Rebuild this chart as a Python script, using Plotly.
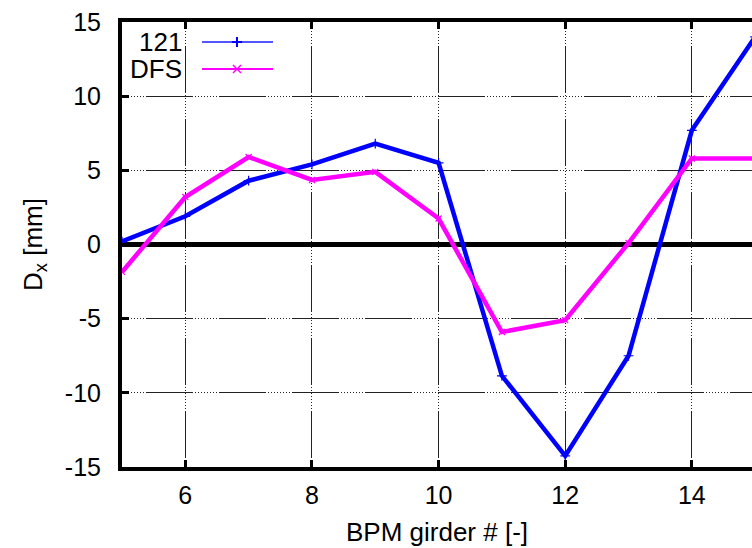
import plotly.graph_objects as go

girder = [5, 6, 7, 8, 9, 10, 11, 12, 13, 14, 15]
dx_121 = [0.2, 1.9, 4.3, 5.4, 6.8, 5.5, -8.85, -14.25, -7.5, 7.7, 14.0]
dx_dfs = [-1.85, 3.2, 5.9, 4.35, 4.9, 1.75, -5.9, -5.1, 0.1, 5.8, 5.8]
x_ticks = [6, 8, 10, 12, 14]
y_ticks = [-15, -10, -5, 0, 5, 10, 15]
y_tick_labels = ["-15", "-10", "-5", "0", "5", "10", "15"]
series_names = ["121", "DFS"]

BLUE = "#0000ff"
MAG = "#ff00ff"
FONT = "Liberation Sans, Arial, sans-serif"
GRID_DASH = ",".join(["1px,2px"] * 8 + ["47px,2px"])

fig = go.Figure()
fig.add_trace(go.Scatter(
    x=girder, y=dx_121, mode="lines+markers", name=series_names[0],
    line=dict(color=BLUE, width=4.5),
    marker=dict(symbol="cross-thin", size=7, line=dict(color=BLUE, width=1.2)),
    showlegend=False))
fig.add_trace(go.Scatter(
    x=girder, y=dx_dfs, mode="lines+markers", name=series_names[1],
    line=dict(color=MAG, width=4.5),
    marker=dict(symbol="x-thin", size=6, line=dict(color=MAG, width=1.2)),
    showlegend=False))

# plot area in pixels: left 122, right 752, top 22, bottom 467
L, R, T, B = 122, 752, 22, 467
W, H = R - L, B - T

def px(xp):
    return (xp - L) / W

def py(yp):
    return (B - yp) / H

shapes = []
annotations = []
legend_rows = [(series_names[0], 42, "#5555ff", "plus"), (series_names[1], 69, MAG, "x")]
for name, yrow, col, mk in legend_rows:
    annotations.append(dict(
        xref="paper", yref="paper", x=px(184), y=py(yrow), text=name,
        showarrow=False, xanchor="right", yanchor="middle",
        font=dict(family=FONT, size=26, color="black")))
    shapes.append(dict(type="line", xref="paper", yref="paper",
                       x0=px(202), x1=px(273), y0=py(yrow), y1=py(yrow),
                       line=dict(color=col, width=2)))
    cx = 237
    if mk == "plus":
        shapes.append(dict(type="line", xref="paper", yref="paper",
                           x0=px(cx), x1=px(cx), y0=py(yrow - 5), y1=py(yrow + 5),
                           line=dict(color=BLUE, width=2)))
        shapes.append(dict(type="line", xref="paper", yref="paper",
                           x0=px(cx - 5), x1=px(cx + 5), y0=py(yrow), y1=py(yrow),
                           line=dict(color=BLUE, width=2)))
    else:
        shapes.append(dict(type="line", xref="paper", yref="paper",
                           x0=px(cx - 4), x1=px(cx + 4), y0=py(yrow - 4), y1=py(yrow + 4),
                           line=dict(color=col, width=1.5)))
        shapes.append(dict(type="line", xref="paper", yref="paper",
                           x0=px(cx - 4), x1=px(cx + 4), y0=py(yrow + 4), y1=py(yrow - 4),
                           line=dict(color=col, width=1.5)))

fig.update_layout(
    width=752, height=548,
    margin=dict(l=L, r=752 - R, t=T, b=548 - B),
    paper_bgcolor="white", plot_bgcolor="white",
    font=dict(family=FONT, size=26, color="black"),
    shapes=shapes, annotations=annotations,
    showlegend=False,
)
fig.update_xaxes(
    range=[5, 14.95], tickmode="array", tickvals=x_ticks,
    ticks="inside", ticklen=7, tickwidth=3, tickcolor="black",
    showline=True, linewidth=4, linecolor="black", mirror="ticks",
    showgrid=True, gridcolor="#222222", gridwidth=1, griddash=GRID_DASH,
    zeroline=False, ticklabelstandoff=3,
    tickfont=dict(size=25),
    title=dict(text="BPM girder # [-]", font=dict(size=26), standoff=16),
)
fig.update_yaxes(
    range=[-15, 15], tickmode="array", tickvals=y_ticks, ticktext=y_tick_labels,
    ticks="inside", ticklen=7, tickwidth=3, tickcolor="black",
    showline=True, linewidth=4, linecolor="black",
    showgrid=True, gridcolor="#222222", gridwidth=1, griddash=GRID_DASH,
    zeroline=True, zerolinecolor="black", zerolinewidth=5,
    ticklabelstandoff=12,
    tickfont=dict(size=25),
    title=dict(text="D<sub>x</sub> [mm]", font=dict(size=26), standoff=16),
)

fig.write_html("out.html", config={"displayModeBar": False},
               post_script="document.body.style.margin='0px';document.body.style.overflow='hidden';")
